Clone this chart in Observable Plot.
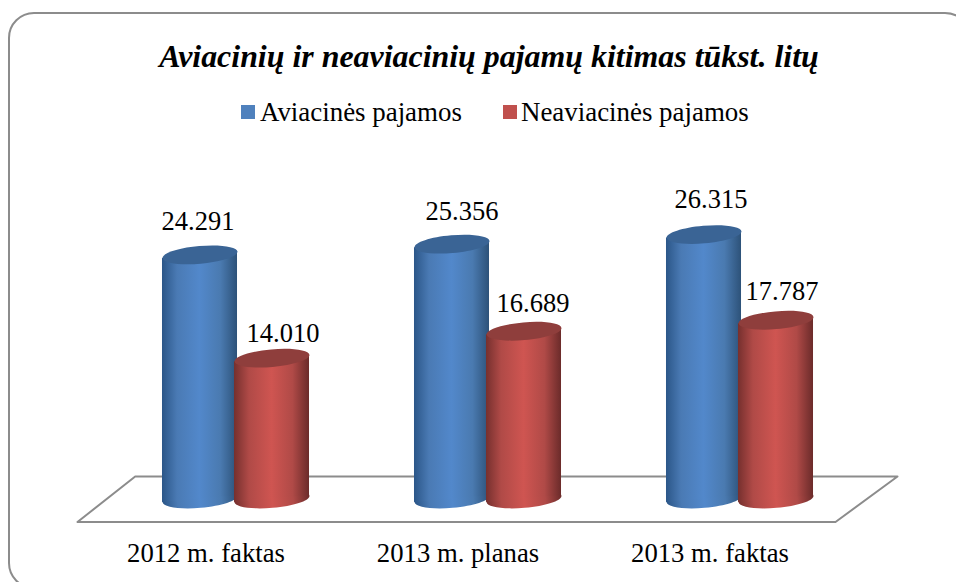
<!DOCTYPE html>
<html>
<head>
<meta charset="utf-8">
<script src="https://cdn.jsdelivr.net/npm/d3@7"></script>
<script src="https://cdn.jsdelivr.net/npm/@observablehq/plot@0.6"></script>
<style>
  html, body { margin: 0; padding: 0; background: #fff; }
  #page { position: relative; width: 956px; height: 582px; overflow: hidden; font-family: "Times New Roman", Times, "Liberation Serif", "DejaVu Serif", serif; color: #000; }
  #border { position: absolute; left: 8px; top: 12px; width: 963px; height: 577px; border: 2px solid #8c8c8c; border-radius: 26px; box-sizing: border-box; }
  #title { position: absolute; left: 0; width: 978px; top: 37px; text-align: center; font-size: 31.9px; line-height: 40px; font-weight: bold; font-style: italic; white-space: nowrap; }
  #legend { position: absolute; left: 0; top: 96px; height: 32px; width: 956px; font-size: 26.9px; line-height: 32px; white-space: nowrap; }
  .item { position: absolute; top: 0; }
  .swatch { position: absolute; top: 9px; width: 14px; height: 14px; }
  #chart { position: absolute; left: 0; top: 130px; }
</style>
</head>
<body>
<div id="page">
  <div id="border"></div>
  <div id="title"></div>
  <div id="legend"></div>
  <div id="chart"></div>
</div>
<script>
const titleText = "Aviacinių ir neaviacinių pajamų kitimas tūkst. litų";
const categories = ["2012 m. faktas", "2013 m. planas", "2013 m. faktas"];
const seriesNames = ["Aviacinės pajamos", "Neaviacinės pajamos"];
const aviation = [24291, 25356, 26315];
const nonAviation = [14010, 16689, 17787];
const valueLabels = [["24.291", "25.356", "26.315"], ["14.010", "16.689", "17.787"]];
const swatchColors = ["#4f81bd", "#c0504d"];
const topColors = ["#3a6495", "#8f3e3c"];

// cylinder geometry, in x-scale units (one category step) and y-scale units
const barSpan = [[-0.2917, 0.006], [-0.006, 0.2917]];
const tilt = 350;
const floorDepth = { front: -2290, back: 2240 };
const floorX = { frontLeft: -0.629, backLeft: -0.4, backRight: 2.625, frontRight: 2.379 };
// pixel nudges of the value labels, per series and category
const labelNudge = [
  [[-2, -33], [10, -33], [7, -35]],
  [[11, -25], [9, -28], [6, -29]]
];

document.getElementById("title").textContent = titleText;
const legend = document.getElementById("legend");
[[241, 260], [503, 521]].forEach(([sx, tx], i) => {
  const s = document.createElement("div");
  s.className = "swatch";
  s.style.left = sx + "px";
  s.style.background = swatchColors[i];
  legend.appendChild(s);
  const t = document.createElement("div");
  t.className = "item";
  t.style.left = tx + "px";
  t.textContent = seriesNames[i];
  legend.appendChild(t);
});

const ellipse = {
  draw(ctx, size) {
    const rx = Math.sqrt(size / Math.PI), ry = rx * 0.235, k = 0.5523;
    ctx.moveTo(-rx, 0);
    ctx.bezierCurveTo(-rx, -ry * k, -rx * k, -ry, 0, -ry);
    ctx.bezierCurveTo(rx * k, -ry, rx, -ry * k, rx, 0);
    ctx.bezierCurveTo(rx, ry * k, rx * k, ry, 0, ry);
    ctx.bezierCurveTo(-rx * k, ry, -rx, ry * k, -rx, 0);
    ctx.closePath();
  }
};

const gradients = () => {
  const defs = d3.create("svg:defs");
  [["gradA", ["#2b5688", "#4a7ab4", "#5288cb", "#4a7ab0", "#2d5279"]],
   ["gradN", ["#76302e", "#b04a47", "#cf5551", "#b04a47", "#6b2b2a"]]].forEach(([id, stops]) => {
    const g = defs.append("linearGradient").attr("id", id).attr("x1", 0).attr("x2", 1).attr("y1", 0).attr("y2", 0);
    [0, 0.2, 0.5, 0.78, 1].forEach((o, i) => g.append("stop").attr("offset", o).attr("stop-color", stops[i]));
  });
  return defs.node();
};

const floor = [
  { x: floorX.frontLeft, y: floorDepth.front },
  { x: floorX.backLeft, y: floorDepth.back },
  { x: floorX.backRight, y: floorDepth.back },
  { x: floorX.frontRight, y: floorDepth.front },
  { x: floorX.frontLeft, y: floorDepth.front }
];

const seriesValues = [aviation, nonAviation];
const gradIds = ["url(#gradA)", "url(#gradN)"];

const cylinderMarks = seriesValues.flatMap((values, s) => {
  const [a, b] = barSpan[s];
  const mid = (a + b) / 2;
  const body = values.flatMap((v, i) => [
    { bar: i, x: i + a, y1: -tilt * 1, y2: v - tilt },
    { bar: i, x: i + b, y1: tilt * 1, y2: v + tilt }
  ]);
  const centers = values.map((v, i) => ({ x: i + mid, v }));
  return [
    Plot.dot(centers, { x: "x", y: 0, r: 37.6, symbol: ellipse, rotate: -5, fill: gradIds[s], stroke: "none" }),
    Plot.areaY(body, { x: "x", y1: "y1", y2: "y2", z: "bar", fill: gradIds[s], curve: "linear" }),
    Plot.dot(centers, { x: "x", y: "v", r: 37.6, symbol: ellipse, rotate: -5, fill: topColors[s], stroke: "none" })
  ];
});

const labelMarks = seriesValues.flatMap((values, s) =>
  values.map((v, i) =>
    Plot.text([{ x: i + (barSpan[s][0] + barSpan[s][1]) / 2, v, t: valueLabels[s][i] }], {
      x: "x", y: "v", text: "t",
      dx: labelNudge[s][i][0], dy: labelNudge[s][i][1],
      fontSize: 26.5, fill: "#000", textAnchor: "middle"
    })
  )
);

const chart = Plot.plot({
  width: 956,
  height: 452,
  marginTop: 67,
  marginBottom: 60.5,
  marginLeft: 0,
  marginRight: 0,
  style: { fontFamily: "'Times New Roman', Times, 'Liberation Serif', 'DejaVu Serif', serif", background: "transparent", overflow: "visible" },
  x: { type: "linear", domain: [-235.5 / 252, 720.5 / 252], axis: null },
  y: { domain: [floorDepth.front, 30000], axis: null },
  marks: [
    gradients,
    Plot.line(floor, { x: "x", y: "y", fill: "#fff", stroke: "#8c8c8c", strokeWidth: 2, curve: "linear" }),
    ...cylinderMarks,
    ...labelMarks,
    Plot.axisX([0, 1, 2], {
      anchor: "bottom",
      tickSize: 0,
      tickPadding: 21,
      dx: -30,
      tickFormat: (i) => categories[i],
      fontSize: 26.7,
      label: null,
      fill: "#000"
    })
  ]
});
document.getElementById("chart").appendChild(chart);
</script>
</body>
</html>
